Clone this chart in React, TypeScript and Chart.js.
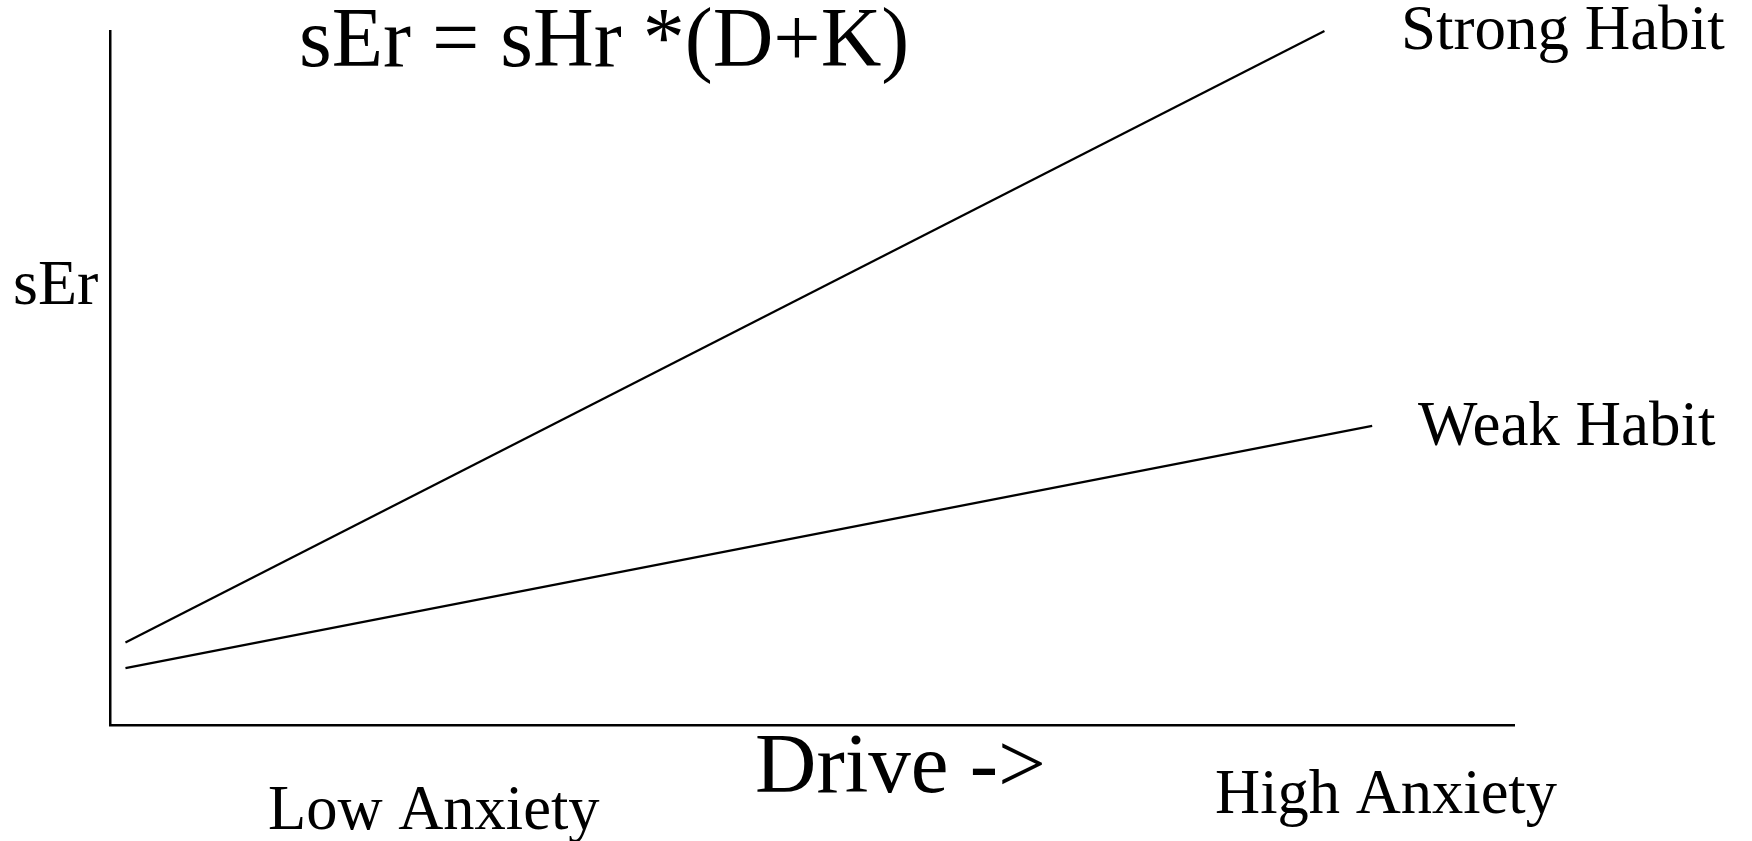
import React, { useEffect, useRef } from "react";
import { Chart, registerables } from "chart.js";

Chart.register(...registerables);

// Data (drive on x, 0-100; sEr on y, 0-100)
const strongHabitX = [1.1, 86.5];
const strongHabitY = [11.9, 100];
const weakHabitX = [1.1, 89.9];
const weakHabitY = [8.2, 43.1];

const titleText = "sEr = sHr *(D+K)";
const yAxisLabel = "sEr";
const xAxisLabel = "Drive ->";
const lowLabel = "Low Anxiety";
const highLabel = "High Anxiety";
const strongLabel = "Strong Habit";
const weakLabel = "Weak Habit";

const FONT = '"Liberation Serif", "Times New Roman", serif';

const textPlugin = {
  id: "textLabels",
  afterDraw(chart: any) {
    const ctx = chart.ctx;
    ctx.save();
    ctx.fillStyle = "#000";
    ctx.textAlign = "left";
    ctx.textBaseline = "alphabetic";
    const draw = (t: string, size: number, x: number, y: number) => {
      ctx.font = `${size}px ${FONT}`;
      ctx.fillText(t, x, y);
    };
    draw(titleText, 84, 299, 66);
    draw(strongLabel, 63, 1401, 49);
    draw(weakLabel, 63, 1418, 445);
    draw(yAxisLabel, 64, 13, 304);
    draw(xAxisLabel, 85, 755, 792);
    draw(lowLabel, 62.5, 268, 829);
    draw(highLabel, 62.5, 1215, 813);
    ctx.restore();
  },
};

export default function App() {
  const ref = useRef<HTMLCanvasElement>(null);
  useEffect(() => {
    document.body.style.margin = "0";
    const toPts = (xs: number[], ys: number[]) => xs.map((x, i) => ({ x, y: ys[i] }));
    const chart = new Chart(ref.current!, {
      type: "line",
      data: {
        datasets: [
          {
            label: strongLabel,
            data: toPts(strongHabitX, strongHabitY),
            borderColor: "#000",
            borderWidth: 2.2,
            pointRadius: 0,
            tension: 0,
            clip: false as any,
          },
          {
            label: weakLabel,
            data: toPts(weakHabitX, weakHabitY),
            borderColor: "#000",
            borderWidth: 2.2,
            pointRadius: 0,
            tension: 0,
            clip: false as any,
          },
        ],
      },
      options: {
        animation: false,
        responsive: false,
        devicePixelRatio: 1,
        layout: { padding: { left: 110, right: 238, top: 31, bottom: 116 } },
        plugins: {
          legend: { display: false },
          title: { display: false },
          tooltip: { enabled: false },
        },
        scales: {
          x: {
            type: "linear",
            min: 0,
            max: 100,
            grid: { display: false, drawTicks: false, tickLength: 0 },
            ticks: { display: false, padding: 0 },
            border: { display: true, color: "#000", width: 2.5 },
          },
          y: {
            type: "linear",
            min: 0,
            max: 100,
            grid: { display: false, drawTicks: false, tickLength: 0 },
            ticks: { display: false, padding: 0 },
            border: { display: true, color: "#000", width: 2.5 },
          },
        },
      },
      plugins: [textPlugin],
    });
    return () => chart.destroy();
  }, []);
  return (
    <div style={{ position: "absolute", left: 0, top: 0, width: 1752, height: 841, background: "#fff" }}>
      <canvas ref={ref} width={1752} height={841} style={{ width: 1752, height: 841, display: "block" }} />
    </div>
  );
}
